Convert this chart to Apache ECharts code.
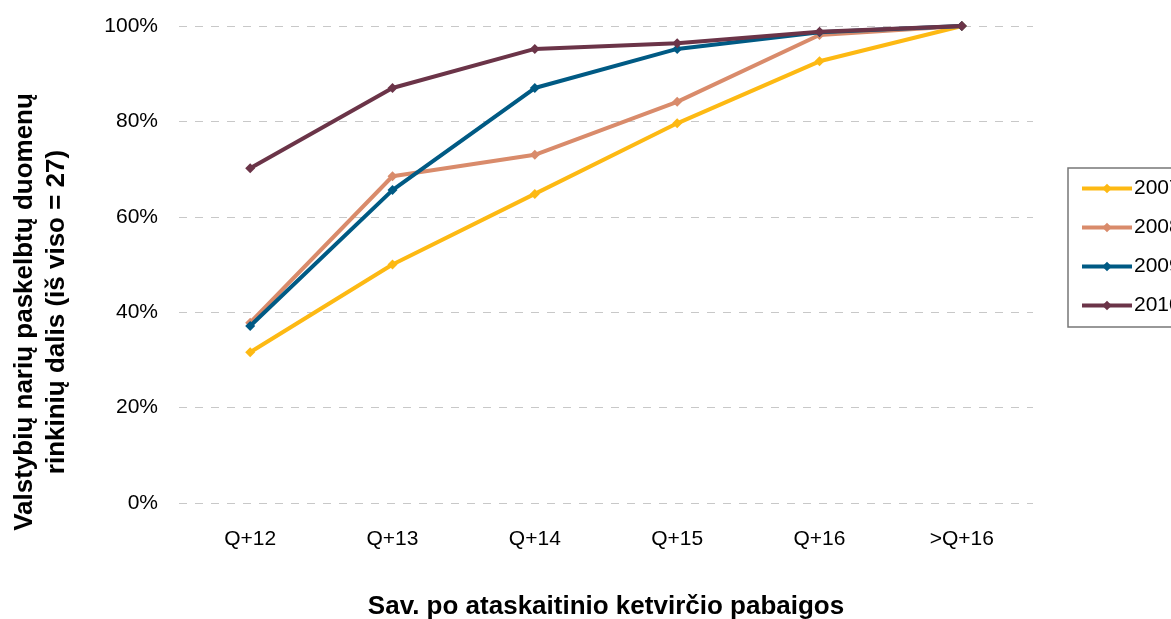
<!DOCTYPE html>
<html><head><meta charset="utf-8">
<script src="https://cdn.jsdelivr.net/npm/echarts@6/dist/echarts.min.js"></script>
<style>html,body{margin:0;padding:0;background:#fff}#c{width:1171px;height:619px}</style>
</head><body><div id="c"></div>
<script>
const categories = ['Q+12','Q+13','Q+14','Q+15','Q+16','>Q+16'];
const s2007 = [31.6, 50.0, 64.8, 79.6, 92.6, 100];
const s2008 = [37.8, 68.5, 73.0, 84.1, 98.1, 100];
const s2009 = [37.1, 65.6, 87.0, 95.2, 98.7, 100];
const s2010 = [70.2, 87.0, 95.2, 96.4, 98.8, 100];
const seriesNames = ['2007','2008','2009','2010'];
const colors = ['#FDB913','#D98B6B','#005A84','#6B3448'];
const yTicks = [0,20,40,60,80,100];

const chart = echarts.init(document.getElementById('c'), null, {renderer:'canvas'});
const font = 'Liberation Sans, Arial, sans-serif';
const data = [s2007, s2008, s2009, s2010];
chart.setOption({
  animation:false,
  backgroundColor:'#fff',
  grid:{left:179, right:138, top:26, bottom:116, containLabel:false, outerBoundsMode:'none'},
  xAxis:{type:'category', data:categories, boundaryGap:true,
    axisLine:{show:false}, axisTick:{show:false},
    axisLabel:{color:'#000', fontSize:21, fontFamily:font, margin:26},
    name:'Sav. po ataskaitinio ketvirčio pabaigos', nameLocation:'middle', nameGap:91,
    nameTextStyle:{color:'#000', fontSize:26, fontWeight:'bold', fontFamily:font}
  },
  yAxis:{type:'value', min:yTicks[0], max:yTicks[yTicks.length-1], interval:20,
    axisLine:{show:false}, axisTick:{show:false},
    axisLabel:{color:'#000', fontSize:21, fontFamily:font, margin:21, formatter:v=>v+'%'},
    splitLine:{show:true, lineStyle:{color:'#c8c8c8', type:[8,8], width:1}}
  },
  legend:{orient:'vertical', left:1068, top:168, data:seriesNames,
    borderColor:'#777', borderWidth:1.5, padding:[10,40,11,12],
    itemWidth:50, itemHeight:12, itemGap:18,
    lineStyle:{width:4},
    textStyle:{color:'#000', fontSize:21, fontFamily:font, padding:[0,0,0,-3]}
  },
  graphic:[{type:'text', x:41, y:312, rotation:Math.PI/2,
    style:{text:'Valstybių narių paskelbtų duomenų\nrinkinių dalis (iš viso = 27)',
      fill:'#000', font:'bold 26px '+font, align:'center', verticalAlign:'middle', lineHeight:32}}],
  series: seriesNames.map((n,i)=>({
    name:n, type:'line', data:data[i], symbol:'diamond', symbolSize:10,
    lineStyle:{color:colors[i], width:4}, itemStyle:{color:colors[i]}, z:2+i
  }))
});
</script></body></html>
